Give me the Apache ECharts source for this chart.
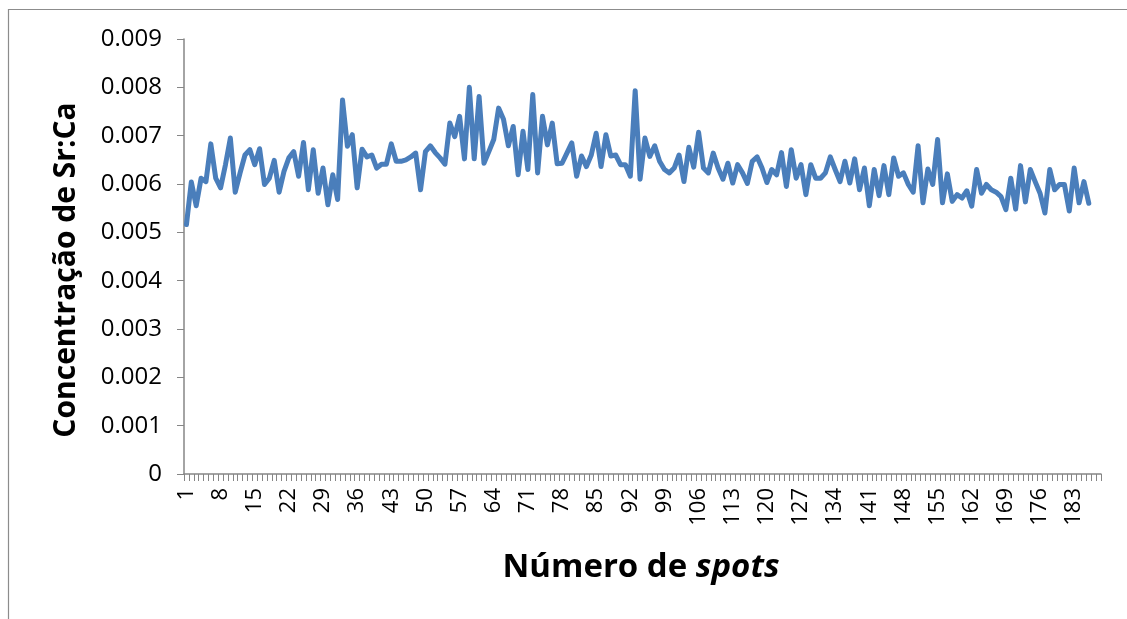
<!DOCTYPE html>
<html>
<head>
<meta charset="utf-8">
<script src="https://cdn.jsdelivr.net/npm/echarts@6/dist/echarts.min.js"></script>
<style>
  html, body { margin: 0; padding: 0; background: #ffffff; }
  #chart { width: 1127px; height: 619px; }
</style>
</head>
<body>
<div id="chart"></div>
<script>
// Category axis: spot numbers 1..188 (data present for the first 186)
var spotCount = 188;
var categories = Array.from({ length: spotCount }, function (_, i) { return String(i + 1); });

// Sr:Ca concentration per spot
var srCa = [
  0.00516, 0.00604, 0.00555, 0.00612, 0.00605, 0.00683, 0.00612, 0.00592, 0.00640, 0.00695,
  0.00583, 0.00623, 0.00660, 0.00671, 0.00640, 0.00673, 0.00599, 0.00612, 0.00649, 0.00583,
  0.00626, 0.00654, 0.00667, 0.00616, 0.00686, 0.00588, 0.00671, 0.00581, 0.00633, 0.00557,
  0.00619, 0.00568, 0.00774, 0.00678, 0.00702, 0.00592, 0.00672, 0.00656, 0.00660, 0.00633,
  0.00641, 0.00641, 0.00683, 0.00647, 0.00647, 0.00650, 0.00656, 0.00664, 0.00588, 0.00667,
  0.00679, 0.00665, 0.00654, 0.00641, 0.00726, 0.00698, 0.00740, 0.00652, 0.00800, 0.00652,
  0.00781, 0.00643, 0.00667, 0.00692, 0.00757, 0.00734, 0.00679, 0.00719, 0.00619, 0.00709,
  0.00630, 0.00785, 0.00623, 0.00740, 0.00681, 0.00726, 0.00642, 0.00643, 0.00664, 0.00685,
  0.00616, 0.00658, 0.00636, 0.00660, 0.00705, 0.00636, 0.00702, 0.00658, 0.00660, 0.00640,
  0.00640, 0.00616, 0.00793, 0.00610, 0.00695, 0.00657, 0.00679, 0.00647, 0.00630, 0.00623,
  0.00633, 0.00660, 0.00605, 0.00676, 0.00635, 0.00707, 0.00633, 0.00623, 0.00664, 0.00633,
  0.00610, 0.00643, 0.00602, 0.00640, 0.00623, 0.00601, 0.00647, 0.00656, 0.00633, 0.00603,
  0.00630, 0.00619, 0.00665, 0.00595, 0.00671, 0.00612, 0.00640, 0.00578, 0.00640, 0.00612,
  0.00612, 0.00623, 0.00656, 0.00630, 0.00605, 0.00647, 0.00602, 0.00652, 0.00588, 0.00633,
  0.00555, 0.00630, 0.00576, 0.00638, 0.00578, 0.00654, 0.00616, 0.00623, 0.00599, 0.00583,
  0.00679, 0.00561, 0.00631, 0.00599, 0.00692, 0.00561, 0.00621, 0.00564, 0.00578, 0.00571,
  0.00586, 0.00554, 0.00630, 0.00581, 0.00599, 0.00588, 0.00583, 0.00574, 0.00547, 0.00612,
  0.00548, 0.00638, 0.00563, 0.00630, 0.00605, 0.00581, 0.00540, 0.00630, 0.00588, 0.00599,
  0.00599, 0.00544, 0.00633, 0.00561, 0.00605, 0.00560
];

// Y axis ticks
var yMin = 0, yMax = 0.009, yStep = 0.001;

var yTitle = 'Concentração de Sr:Ca';
var xTitleA = 'Número de ';
var xTitleB = 'spots';

var chart = echarts.init(document.getElementById('chart'), null, { renderer: 'canvas' });
var FONT = '"Open Sans", "Noto Sans", sans-serif';
var AXIS_COLOR = '#868686';

chart.setOption({
  animation: false,
  backgroundColor: '#ffffff',
  grid: { left: 184, right: 26, top: 39, bottom: 145, containLabel: false },
  xAxis: {
    type: 'category',
    data: categories,
    boundaryGap: true,
    axisLine: { show: true, lineStyle: { color: AXIS_COLOR, width: 1.5 } },
    axisTick: { show: true, interval: 0, length: 7, lineStyle: { color: AXIS_COLOR, width: 1 } },
    axisLabel: {
      interval: 6, rotate: 90, margin: 14,
      color: '#000000', fontFamily: FONT, fontSize: 22
    },
    splitLine: { show: false }
  },
  yAxis: {
    type: 'value',
    min: yMin, max: yMax, interval: yStep,
    axisLine: { show: true, lineStyle: { color: AXIS_COLOR, width: 1.5 } },
    axisTick: { show: true, length: 7, lineStyle: { color: AXIS_COLOR, width: 1 } },
    axisLabel: {
      margin: 22,
      color: '#000000', fontFamily: FONT, fontSize: 24,
      formatter: function (v) { return v === 0 ? '0' : v.toFixed(3); }
    },
    splitLine: { show: false }
  },
  series: [{
    type: 'line',
    data: srCa,
    showSymbol: false,
    symbol: 'none',
    smooth: false,
    lineStyle: { color: '#4A7EBB', width: 5, cap: 'round', join: 'round' },
    itemStyle: { color: '#4A7EBB' }
  }],
  graphic: [
    {
      type: 'rect', silent: true,
      shape: { x: 8.5, y: 9.5, width: 1300, height: 800 },
      style: { fill: 'none', stroke: '#8c8c8c', lineWidth: 1.2 }
    },
    {
      type: 'text', silent: true,
      x: 66, y: 270, rotation: Math.PI / 2,
      style: {
        text: yTitle, fill: '#000000', fontFamily: FONT, fontWeight: 'bold', fontSize: 30,
        align: 'center', verticalAlign: 'middle'
      }
    },
    {
      type: 'text', silent: true,
      x: 641, y: 568,
      style: {
        text: '{a|' + xTitleA + '}{b|' + xTitleB + '}',
        align: 'center', verticalAlign: 'middle',
        rich: {
          a: { fill: '#000000', fontFamily: FONT, fontWeight: 'bold', fontSize: 33 },
          b: { fill: '#000000', fontFamily: FONT, fontWeight: 'bold', fontStyle: 'italic', fontSize: 33 }
        }
      }
    }
  ]
});
</script>
</body>
</html>
